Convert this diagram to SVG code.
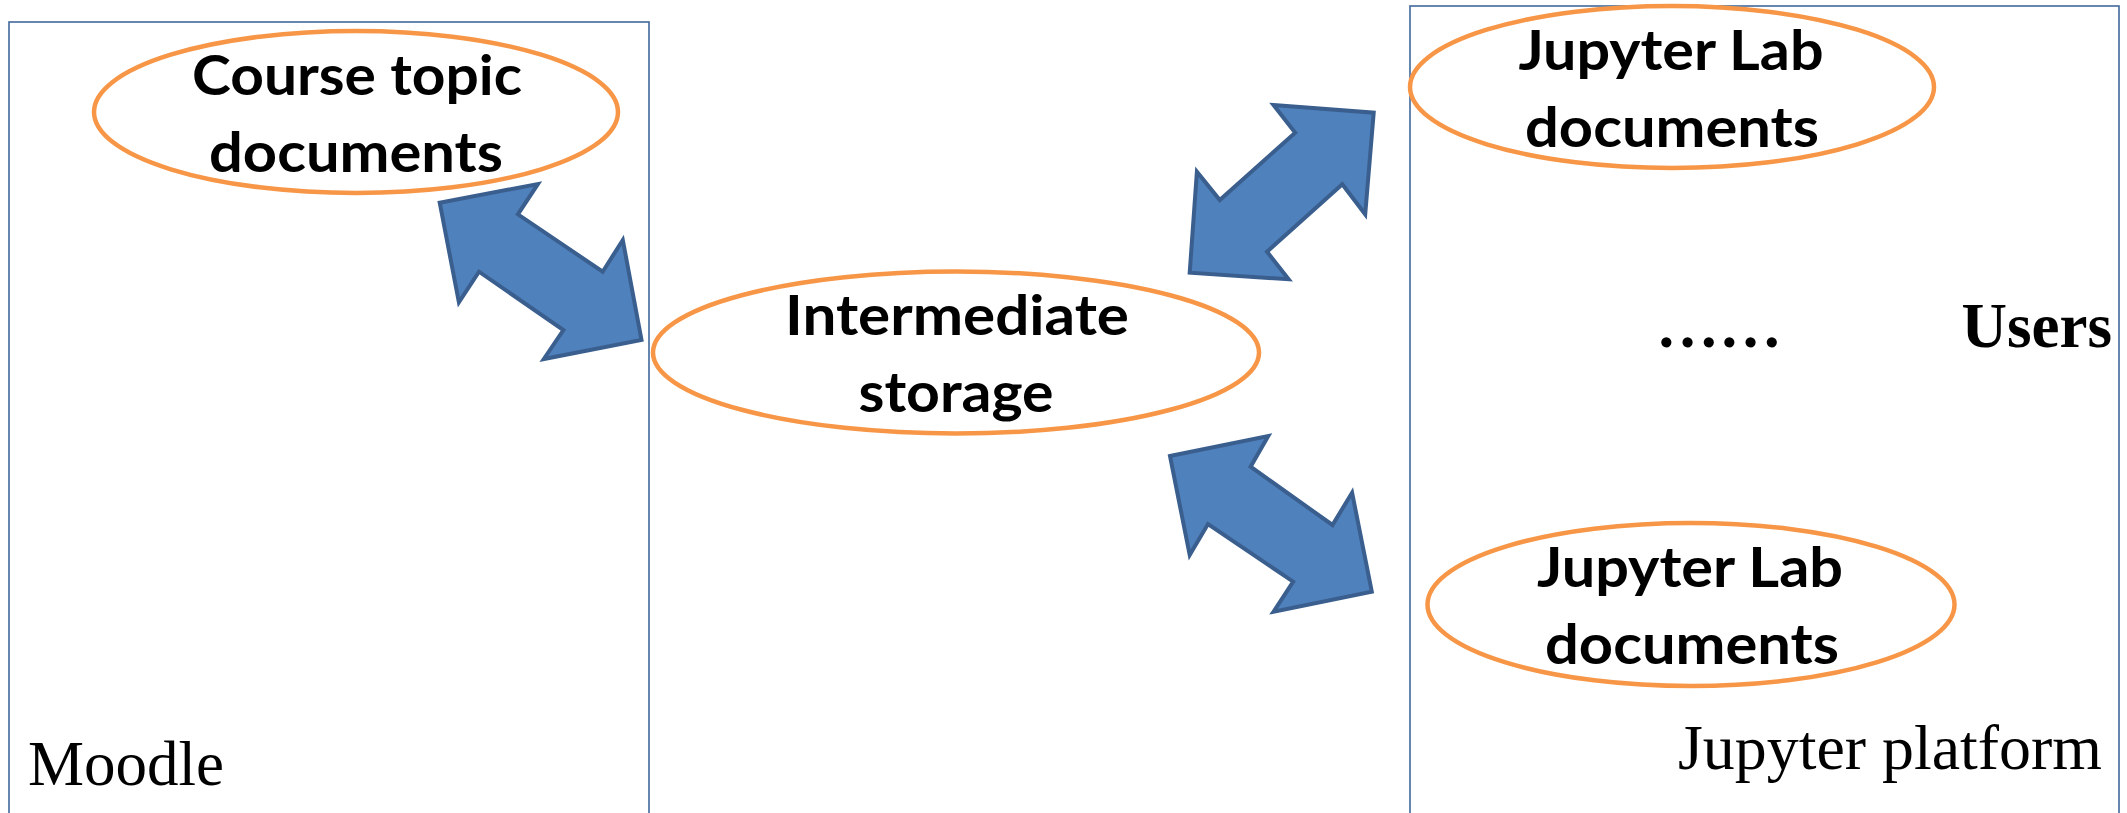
<svg xmlns="http://www.w3.org/2000/svg" width="2127" height="813" viewBox="0 0 2127 813">
<style>
.frame{fill:none;stroke:#41689C;stroke-width:1.6}
.oval{fill:#FFFFFF;stroke:#F79646;stroke-width:4.5}
.lbl{font-family:Lato,"Open Sans","Liberation Sans",sans-serif;font-weight:700;font-size:56px;fill:#000;text-anchor:middle}
.serif{font-family:"Liberation Serif","Times New Roman",serif;font-size:63px;fill:#000}
.arrow{fill:#4F81BD;stroke:#3A5F8E;stroke-width:4;stroke-linejoin:miter}
</style>
<rect width="2127" height="813" fill="#FFFFFF"/>
<g id="moodle">
<rect class="frame" x="9" y="22" width="640" height="800"/>
<text class="serif" x="28" y="785">Moodle</text>
</g>
<g id="jupyter-platform">
<rect class="frame" x="1410" y="6" width="709" height="816"/>
<text class="serif" x="2102" y="769" text-anchor="end" textLength="424" lengthAdjust="spacingAndGlyphs">Jupyter platform</text>
<text class="serif" x="1719" y="347" text-anchor="middle" font-weight="700">……</text>
<text class="serif" x="2112" y="347" text-anchor="end" font-weight="700">Users</text>
</g>
<g id="course-topic">
<ellipse class="oval" cx="356" cy="112" rx="262" ry="81"/>
<text class="lbl" x="357" y="95" textLength="330" lengthAdjust="spacingAndGlyphs">Course topic</text>
<text class="lbl" x="356" y="172" textLength="294" lengthAdjust="spacingAndGlyphs">documents</text>
</g>
<g id="intermediate">
<ellipse class="oval" cx="956" cy="352.5" rx="303" ry="81"/>
<text class="lbl" x="957" y="335" textLength="344" lengthAdjust="spacingAndGlyphs">Intermediate</text>
<text class="lbl" x="956" y="412" textLength="195" lengthAdjust="spacingAndGlyphs">storage</text>
</g>
<g id="jupyter-top">
<ellipse class="oval" cx="1672" cy="87" rx="262" ry="81"/>
<text class="lbl" x="1671" y="70" textLength="305" lengthAdjust="spacingAndGlyphs">Jupyter Lab</text>
<text class="lbl" x="1672" y="147" textLength="294" lengthAdjust="spacingAndGlyphs">documents</text>
</g>
<g id="jupyter-bottom">
<ellipse class="oval" cx="1691" cy="604.5" rx="263.5" ry="81.5"/>
<text class="lbl" x="1690" y="587" textLength="306" lengthAdjust="spacingAndGlyphs">Jupyter Lab</text>
<text class="lbl" x="1692" y="664" textLength="294" lengthAdjust="spacingAndGlyphs">documents</text>
</g>
<g id="connectors">
<polygon class="arrow" points="439.7,202.7 537.9,184 517.9,214.3 602.7,271.7 622.8,240 641.5,340 543.8,359 563.4,330 479,271.7 458.9,302.3"/>
<polygon class="arrow" points="1273.5,105 1373.7,112.7 1365.2,214.3 1342.3,184.3 1267,251.7 1288.6,279.3 1189.7,272.7 1196.9,171.7 1219.8,200 1295.2,132.7"/>
<polygon class="arrow" points="1170,456 1268.3,436 1250.6,466.7 1332.5,525 1352.1,492.7 1371.8,591.7 1273.5,611.7 1293.2,581.7 1208,524 1189.7,555"/>
</g>
</svg>
